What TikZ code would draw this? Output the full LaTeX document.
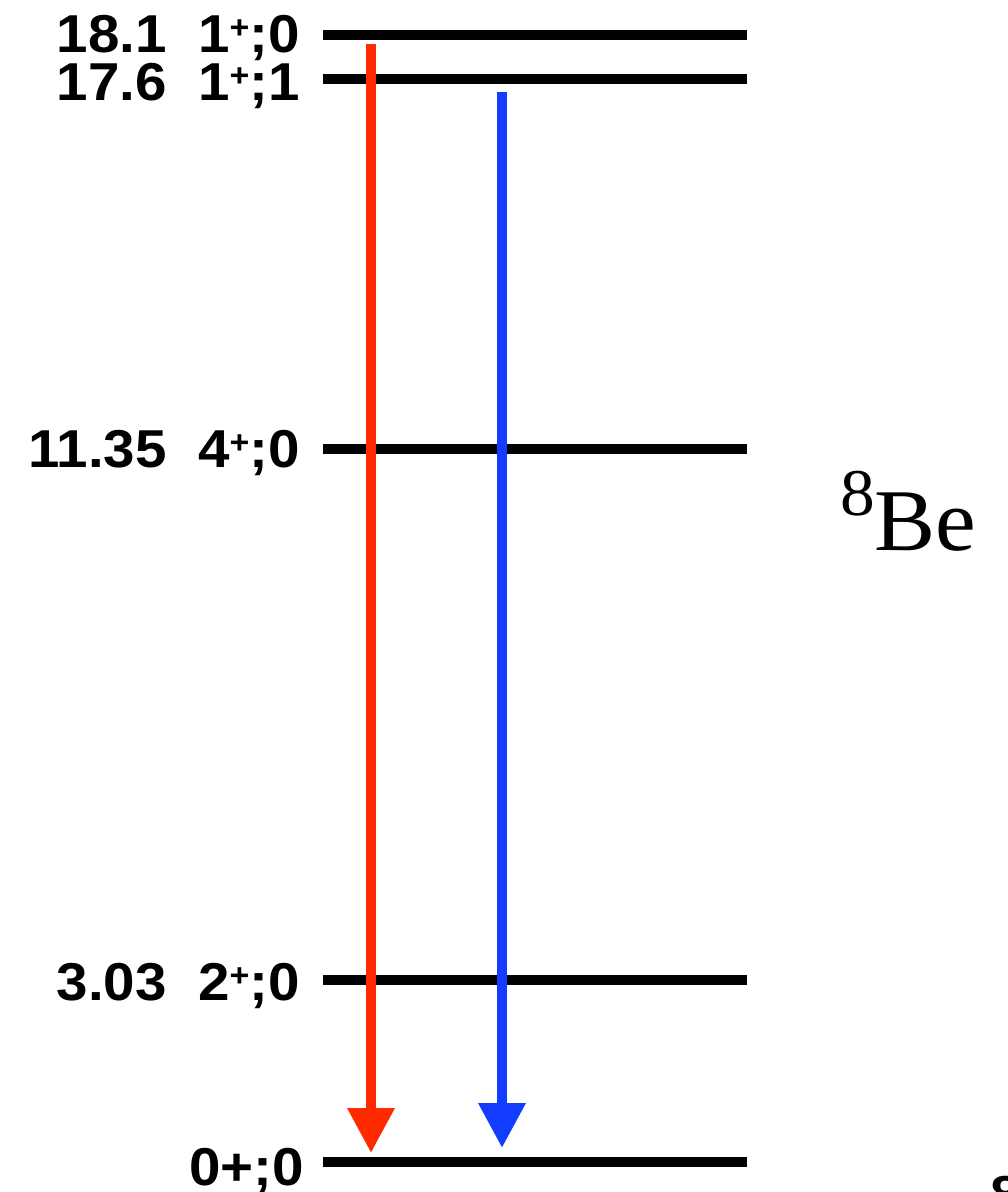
\documentclass[tikz,border=0pt]{standalone}
\usepackage{fontspec}
\setmainfont{Liberation Sans}[FakeStretch=1.06]
\newfontfamily\serifB{Liberation Serif}[FakeStretch=1.04]
\usetikzlibrary{arrows.meta}
\definecolor{tred}{RGB}{255,42,0}
\definecolor{tblue}{RGB}{18,60,255}
\newcommand{\spinsup}[1]{\raisebox{10pt}[0pt][0pt]{\fontsize{24pt}{24pt}\selectfont #1}}
\begin{document}
\begin{tikzpicture}[x=0.75pt,y=-0.75pt,
  level/.style={line width=7.5pt},
  lab/.style={anchor=base east,inner sep=0pt,font=\fontsize{40pt}{40pt}\selectfont\bfseries},
  trans/.style={line width=7.5pt,-{Triangle[width=33.75pt,length=33.75pt]}}]
\useasboundingbox (0,0) rectangle (1007,1192);
% levels
\coordinate (a1) at (323,35);   \coordinate (a2) at (747,35);
\coordinate (b1) at (323,79);   \coordinate (b2) at (747,79);
\coordinate (c1) at (323,449);  \coordinate (c2) at (747,449);
\coordinate (d1) at (323,980);  \coordinate (d2) at (747,980);
\coordinate (e1) at (323,1162); \coordinate (e2) at (747,1162);
\draw[level] (a1) -- (a2);
\draw[level] (b1) -- (b2);
\draw[level] (c1) -- (c2);
\draw[level] (d1) -- (d2);
\draw[level] (e1) -- (e2);
% labels
\node[lab] (la) at (300,52)   {18.1\ \ 1\spinsup{+};0};
\node[lab] (lb) at (300,100)  {17.6\ \ 1\spinsup{+};1};
\node[lab] (lc) at (300,467)  {11.35\ \ 4\spinsup{+};0};
\node[lab] (ld) at (300,1000) {3.03\ \ 2\spinsup{+};0};
\node[lab] (le) at (304,1185) {0+;0};
% transitions
\coordinate (rs) at (371,44);  \coordinate (re) at (371,1153);
\coordinate (bs) at (502,92);  \coordinate (be) at (502,1148);
\draw[trans,tred] (rs) -- (re);
\draw[trans,tblue] (bs) -- (be);
% nucleus
\node[anchor=base west,inner sep=0pt] (nuc) at (840,550)
  {\serifB\raisebox{26pt}{\fontsize{50pt}{50pt}\selectfont 8}\fontsize{66pt}{66pt}\selectfont Be};
% cut fragment
\begin{scope}
\clip (0,0) rectangle (1007,1192);
\node[anchor=north west,inner sep=0pt,font=\fontsize{39pt}{39pt}\selectfont\bfseries] (frag) at (990,1176) {8};
\end{scope}
\end{tikzpicture}
\end{document}
